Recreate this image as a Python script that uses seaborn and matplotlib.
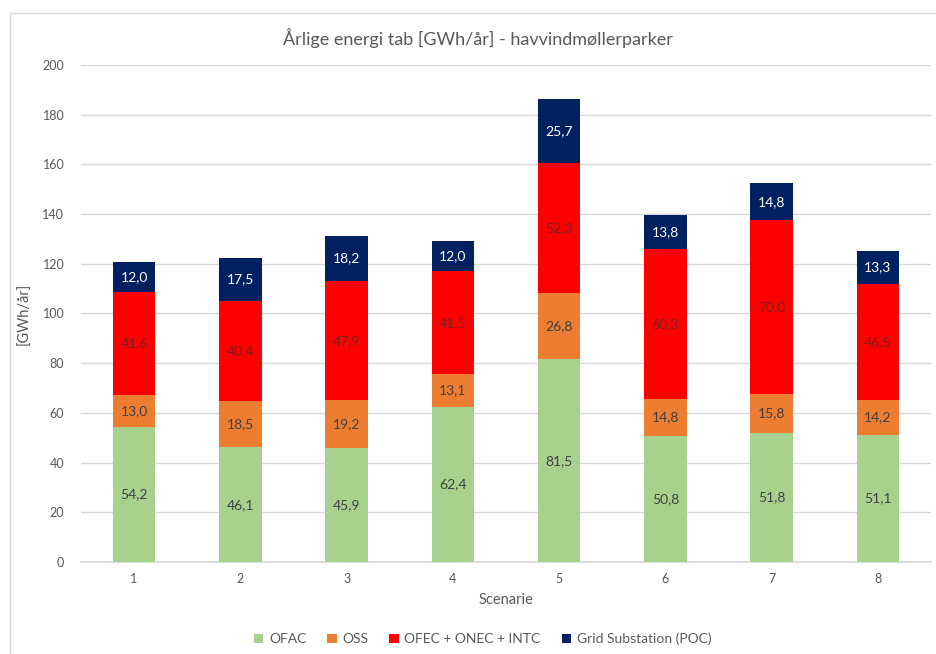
import numpy as np
import pandas as pd
import matplotlib
matplotlib.use("Agg")
import matplotlib.pyplot as plt
import seaborn as sns
from matplotlib.patches import Rectangle, Patch

# data
scenarios = ["1", "2", "3", "4", "5", "6", "7", "8"]
ofac = [54.2, 46.1, 45.9, 62.4, 81.5, 50.8, 51.8, 51.1]
oss = [13.0, 18.5, 19.2, 13.1, 26.8, 14.8, 15.8, 14.2]
ofec = [41.6, 40.4, 47.9, 41.5, 52.3, 60.3, 70.0, 46.5]
grid = [12.0, 17.5, 18.2, 12.0, 25.7, 13.8, 14.8, 13.3]

series_names = ["OFAC", "OSS", "OFEC + ONEC + INTC", "Grid Substation (POC)"]
colors = ["#A9D18E", "#ED7D31", "#FF0000", "#002060"]
label_colors = ["#404040", "#404040", "#7F1F1F", "white"]

sns.set_theme(style="white")
plt.rcParams['font.family'] = ['Lato', 'DejaVu Sans']

df = pd.DataFrame({"Scenarie": scenarios, "OFAC": ofac, "OSS": oss,
                   "OFEC + ONEC + INTC": ofec, "Grid Substation (POC)": grid})
cum = df[series_names].cumsum(axis=1)

fig = plt.figure(figsize=(9.37, 6.54), dpi=100)
ax = fig.add_axes([0.0864, 0.1407, 0.9072, 0.7599])

# outer chart frame
fig.patches.append(Rectangle((0.011, -0.05), 1.2, 1.03, transform=fig.transFigure,
                             fill=False, edgecolor="#D9D9D9", lw=1.0, zorder=0))

# stacked bars: draw cumulative totals from the top down
for i in range(len(series_names) - 1, -1, -1):
    sns.barplot(x=df["Scenarie"], y=cum[series_names[i]], color=colors[i],
                width=0.4, saturation=1, ax=ax, zorder=3, linewidth=0)

# data labels in the middle of each segment
vals = df[series_names].values
for j in range(len(scenarios)):
    base = 0
    for i in range(len(series_names)):
        v = vals[j, i]
        ax.text(j, base + v / 2, f"{v:.1f}".replace(".", ","), ha="center", va="center",
                fontsize=10, color=label_colors[i], zorder=5)
        base += v

ax.set_ylim(0, 200)
ax.set_xlim(-0.5, 7.5)
ax.set_yticks(np.arange(0, 201, 20))
ax.yaxis.grid(True, color="#D9D9D9", lw=1.0, zorder=0)
ax.set_axisbelow(True)
for s in ["left", "right", "top"]:
    ax.spines[s].set_visible(False)
ax.spines["bottom"].set_color("#D9D9D9")
ax.tick_params(axis="both", colors="#595959", labelsize=9, length=0)
ax.tick_params(axis="y", pad=12)
ax.tick_params(axis="x", pad=8)

ax.set_xlabel("Scenarie", fontsize=10.5, color="#595959", labelpad=6)
ax.set_ylabel("[GWh/år]", fontsize=10.5, color="#595959", labelpad=8)
fig.text(0.51, 0.942, "Årlige energi tab [GWh/år] - havvindmøllerparker",
         ha="center", va="center", fontsize=13, color="#595959")

handles = [Patch(facecolor=c, edgecolor="none") for c in colors]
fig.legend(handles, series_names, loc="center", bbox_to_anchor=(0.515, 0.023), ncol=4,
           frameon=False, fontsize=10, labelcolor="#595959", handlelength=0.7,
           handleheight=0.7, handletextpad=0.4, columnspacing=1.5)

fig.savefig("out.png", dpi=100)
